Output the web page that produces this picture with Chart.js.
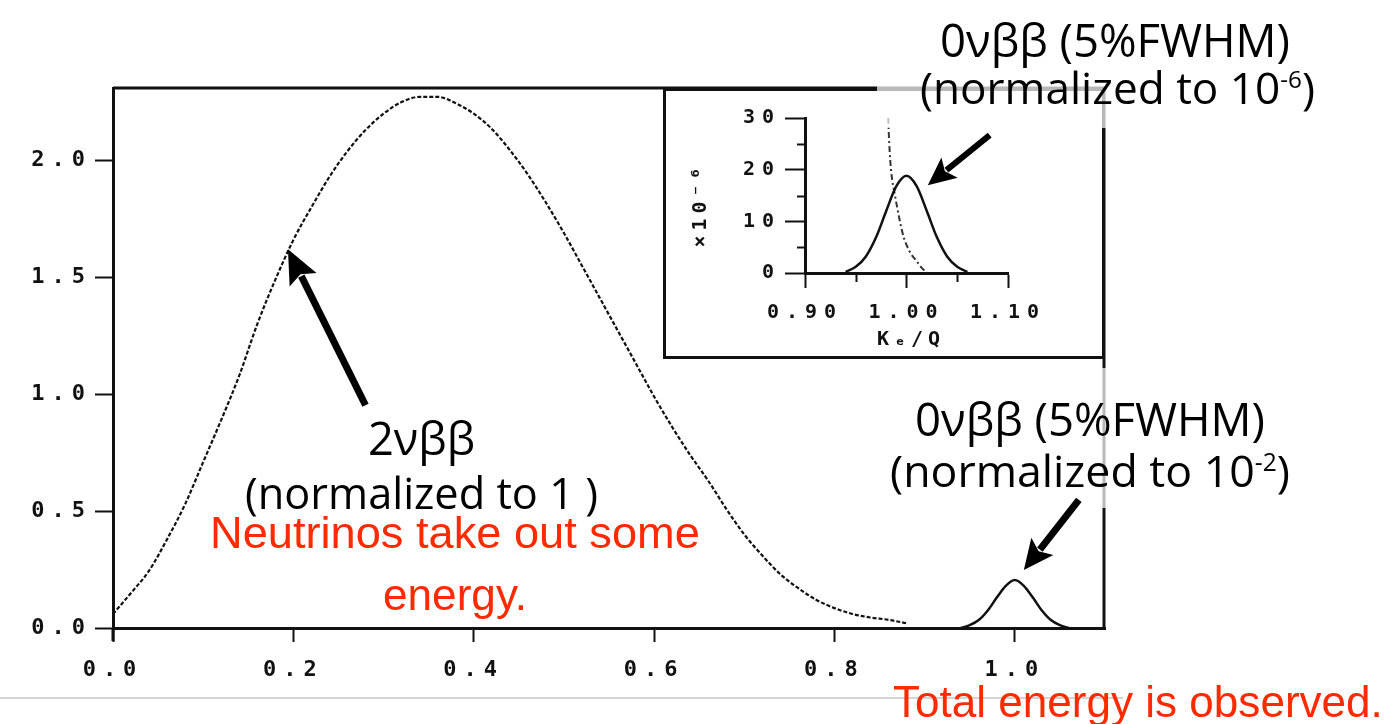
<!DOCTYPE html>
<html>
<head>
<meta charset="utf-8">
<script src="https://cdn.jsdelivr.net/npm/chart.js@4.4.1/dist/chart.umd.min.js"></script>
<style>
body { margin: 0; background: #fff; overflow: hidden; }
#wrap { position: relative; width: 1391px; height: 724px; }
#main { position: absolute; left: 0; top: 0; }
#inset-box { position: absolute; left: 663px; top: 88px; width: 442px; height: 271px; background: #fff; }
#overlay { position: absolute; left: 0; top: 0; pointer-events: none; }
</style>
</head>
<body>
<div id="wrap">
  <canvas id="main" width="1391" height="724"></canvas>
  <div id="inset-box"><canvas id="inset" width="442" height="271"></canvas></div>
  <canvas id="overlay" width="1391" height="724"></canvas>
</div>
<script>
// main spectrum: 2vbb (normalized to 1)
const energy2nu = [0, 0.02, 0.04, 0.06, 0.08, 0.10, 0.12, 0.14, 0.16, 0.18, 0.20, 0.22, 0.24, 0.26, 0.28,
    0.30, 0.32, 0.34, 0.36, 0.38, 0.40, 0.42, 0.44, 0.46, 0.48, 0.50, 0.52, 0.54, 0.56, 0.58, 0.60,
    0.62, 0.64, 0.66, 0.68, 0.70, 0.72, 0.74, 0.76, 0.78, 0.80, 0.82, 0.84, 0.86, 0.88];
const counts2nu = [0.06, 0.15, 0.245, 0.38, 0.53, 0.71, 0.89, 1.08, 1.30, 1.49, 1.66, 1.80, 1.93, 2.04, 2.13,
    2.20, 2.25, 2.272, 2.272, 2.245, 2.20, 2.135, 2.045, 1.94, 1.82, 1.69, 1.55, 1.41, 1.27, 1.13, 0.99,
    0.86, 0.74, 0.63, 0.51, 0.40, 0.31, 0.23, 0.17, 0.12, 0.085, 0.06, 0.045, 0.035, 0.02];

// main spectrum: 0vbb peak (normalized to 1e-2)
const energy0nu = [0.94, 0.95, 0.96, 0.97, 0.98, 0.99, 1.00, 1.01, 1.02, 1.03, 1.04, 1.05, 1.06];
const counts0nu = [0.0, 0.012, 0.034, 0.075, 0.13, 0.18, 0.205, 0.18, 0.13, 0.075, 0.034, 0.012, 0.0];

// inset: 0vbb peak (x1e-6) and 2vbb tail
const insetEnergy0nu = [0.94, 0.95, 0.96, 0.97, 0.98, 0.99, 1.00, 1.01, 1.02, 1.03, 1.04, 1.05, 1.06];
const insetCounts0nu = [0.2, 1.2, 3.2, 6.9, 12.0, 16.8, 18.8, 16.8, 12.0, 6.9, 3.2, 1.2, 0.2];
const insetEnergy2nu = [0.982, 0.983, 0.985, 0.9885, 0.993, 0.997, 1.003, 1.010, 1.015, 1.020];
const insetCounts2nu = [30, 25, 19.5, 15.2, 10.5, 7.1, 4.2, 2.3, 1.0, 0.1];

// ticks
const mainXTicks = [0, 0.2, 0.4, 0.6, 0.8, 1.0];
const mainYTicks = [0, 0.5, 1.0, 1.5, 2.0];
const insetXTicks = [0.90, 0.95, 1.00, 1.05, 1.10];
const insetXLabels = [0.90, 1.00, 1.10];
const insetYTicks = [0, 5, 10, 15, 20, 25, 30];
const insetYLabels = [0, 10, 20, 30];

const toPoints = (xs, ys) => xs.map((x, i) => ({ x: x, y: ys[i] }));
const tickFont = { family: 'DejaVu Sans Mono', weight: 'bold', size: 22 };
const insetFont = { family: 'DejaVu Sans Mono', weight: 'bold', size: 20 };
const ink = '#111';
const isLabel = (list, v) => list.some(l => Math.abs(l - v) < 1e-6);

// wide spacing for the old plotter-style tick labels
const spacing = {
    id: 'spacing',
    beforeDraw(chart) { chart.ctx.letterSpacing = '7px'; },
    afterDraw(chart) { chart.ctx.letterSpacing = '0px'; }
};

const frame = {
    id: 'frame',
    afterDraw(chart) {
        const { ctx, chartArea: a } = chart;
        ctx.save();
        ctx.strokeStyle = ink;
        ctx.lineWidth = 3;
        ctx.beginPath();
        ctx.moveTo(a.left, a.top);
        ctx.lineTo(a.right - 1, a.top);
        ctx.lineTo(a.right - 1, a.bottom);
        ctx.moveTo(a.left, a.bottom);
        ctx.lineTo(a.left, a.bottom + 13);
        ctx.stroke();
        ctx.restore();
    }
};

const mainChart = new Chart(document.getElementById('main'), {
    type: 'line',
    data: {
        datasets: [{
            data: toPoints(energy2nu, counts2nu),
            borderColor: '#111',
            borderWidth: 2.2,
            borderDash: [4, 2],
            pointRadius: 0,
            cubicInterpolationMode: 'monotone'
        }, {
            data: toPoints(energy0nu, counts0nu),
            borderColor: '#111',
            borderWidth: 2.5,
            pointRadius: 0,
            cubicInterpolationMode: 'monotone'
        }]
    },
    options: {
        responsive: false,
        animation: false,
        layout: { padding: { left: 0, top: 88, right: 286, bottom: 0 } },
        plugins: { legend: { display: false }, tooltip: { enabled: false } },
        scales: {
            x: {
                type: 'linear', min: 0, max: 1.1,
                afterBuildTicks: s => { s.ticks = mainXTicks.map(v => ({ value: v })); },
                afterFit: s => { s.height = 96; },
                grid: { drawOnChartArea: false, tickLength: 14, tickColor: ink, tickWidth: 2 },
                border: { display: true, color: ink, width: 3 },
                ticks: { color: ink, font: tickFont, padding: 15, maxRotation: 0, callback: v => v.toFixed(1) }
            },
            y: {
                type: 'linear', min: 0, max: 2.31,
                afterBuildTicks: s => { s.ticks = mainYTicks.map(v => ({ value: v })); },
                afterFit: s => { s.width = 113; },
                grid: { drawOnChartArea: false, tickLength: 18, tickColor: ink, tickWidth: 2 },
                border: { display: true, color: ink, width: 3 },
                ticks: { color: ink, font: tickFont, padding: 3, callback: v => v.toFixed(1) }
            }
        }
    },
    plugins: [spacing, frame]
});

function arrow(ctx, x1, y1, x2, y2, w, head, half) {
    const ang = Math.atan2(y2 - y1, x2 - x1);
    const c = Math.cos(ang), s = Math.sin(ang);
    const bx = x2 - head * c, by = y2 - head * s;
    ctx.strokeStyle = '#000';
    ctx.fillStyle = '#000';
    ctx.lineWidth = w;
    ctx.beginPath();
    ctx.moveTo(x1, y1);
    ctx.lineTo(bx + 4 * c, by + 4 * s);
    ctx.stroke();
    ctx.beginPath();
    ctx.moveTo(x2, y2);
    ctx.lineTo(bx + half * s, by - half * c);
    ctx.lineTo(bx + 6 * c, by + 6 * s);
    ctx.lineTo(bx - half * s, by + half * c);
    ctx.closePath();
    ctx.fill();
}

// draws a line of text so it spans left..right; parts may be superscripts
function fitLine(ctx, parts, left, right, base, family, color) {
    const widthAt = size => parts.reduce((w, p) => {
        ctx.font = (p.sup ? size * 0.55 : size) + 'px ' + family;
        return w + ctx.measureText(p.t).width;
    }, 0);
    const size = 100 * (right - left) / widthAt(100);
    let x = left;
    ctx.fillStyle = color;
    ctx.textAlign = 'left';
    ctx.textBaseline = 'alphabetic';
    parts.forEach(p => {
        ctx.font = (p.sup ? size * 0.55 : size) + 'px ' + family;
        ctx.fillText(p.t, x, p.sup ? base - size * 0.36 : base);
        x += ctx.measureText(p.t).width;
    });
}

function drawOverlay(inset) {
    const ctx = document.getElementById('overlay').getContext('2d');
    ctx.clearRect(0, 0, 1391, 724);
    const mx = mainChart.scales.x, my = mainChart.scales.y;
    const ix = inset.scales.x, iy = inset.scales.y;
    const ox = 663, oy = 88;

    // translucent text boxes laid over the figure
    ctx.fillStyle = 'rgba(255,255,255,0.7)';
    ctx.fillRect(877, 40, 240, 88);
    ctx.fillRect(885, 368, 232, 140);

    // slide rule line
    ctx.strokeStyle = '#c4c4c4';
    ctx.lineWidth = 1.5;
    ctx.beginPath();
    ctx.moveTo(0, 698);
    ctx.lineTo(1123, 698);
    ctx.stroke();

    const black = "'Open Sans'";
    const red = "'Liberation Sans'";
    fitLine(ctx, [{ t: '0νββ (5%FWHM)' }], 940, 1290, 57, black, '#000');
    fitLine(ctx, [{ t: '(normalized to 10' }, { t: '-6', sup: true }, { t: ')' }], 920, 1315, 104, black, '#000');
    fitLine(ctx, [{ t: '0νββ (5%FWHM)' }], 915, 1265, 436, black, '#000');
    fitLine(ctx, [{ t: '(normalized to 10' }, { t: '-2', sup: true }, { t: ')' }], 890, 1290, 487, black, '#000');
    fitLine(ctx, [{ t: '2νββ' }], 368, 475, 455, black, '#000');
    fitLine(ctx, [{ t: '(normalized to 1 )' }], 245, 598, 509, black, '#000');
    fitLine(ctx, [{ t: 'Neutrinos take out some' }], 210, 700, 548, red, '#ff2a00');
    fitLine(ctx, [{ t: 'energy.' }], 383, 527, 610, red, '#ff2a00');
    fitLine(ctx, [{ t: 'Total energy is observed.' }], 893, 1383, 717, red, '#ff2a00');

    arrow(ctx, mx.getPixelForValue(0.28), my.getPixelForValue(0.953),
        mx.getPixelForValue(0.194), my.getPixelForValue(1.62), 7, 34, 15);
    arrow(ctx, mx.getPixelForValue(1.071), my.getPixelForValue(0.548),
        mx.getPixelForValue(1.01), my.getPixelForValue(0.248), 7, 30, 14);
    arrow(ctx, ox + ix.getPixelForValue(1.082), oy + iy.getPixelForValue(26.7),
        ox + ix.getPixelForValue(1.021), oy + iy.getPixelForValue(17.0), 6, 28, 13);
}

const insetDecor = {
    id: 'insetDecor',
    afterDraw(chart) {
        const ctx = chart.ctx;
        const { x: sx, y: sy } = chart.scales;
        const a = chart.chartArea;
        ctx.save();
        ctx.letterSpacing = '0px';
        ctx.strokeStyle = ink;
        ctx.lineWidth = 3;
        ctx.strokeRect(1.5, 1.5, 439, 268);
        // short minor ticks
        ctx.lineWidth = 2;
        ctx.beginPath();
        insetYTicks.filter(v => !isLabel(insetYLabels, v)).forEach(v => {
            const py = Math.round(sy.getPixelForValue(v)) + 0.5;
            ctx.moveTo(a.left - 8, py);
            ctx.lineTo(a.left, py);
        });
        insetXTicks.filter(v => !isLabel(insetXLabels, v)).forEach(v => {
            const px = Math.round(sx.getPixelForValue(v)) + 0.5;
            ctx.moveTo(px, a.bottom);
            ctx.lineTo(px, a.bottom + 9);
        });
        ctx.stroke();
        ctx.fillStyle = ink;
        ctx.font = 'bold 20px "DejaVu Sans Mono"';
        ctx.textAlign = 'center';
        ctx.textBaseline = 'middle';
        ctx.letterSpacing = '5px';
        ctx.fillText('Kₑ/Q', 248, 252);
        ctx.translate(38, 117);
        ctx.rotate(-Math.PI / 2);
        ctx.fillText('×10⁻⁶', 0, 0);
        ctx.restore();
        drawOverlay(chart);
    }
};

const majorOnly = list => c => (c.tick && isLabel(list, c.tick.value)) ? ink : 'rgba(0,0,0,0)';

new Chart(document.getElementById('inset'), {
    type: 'line',
    data: {
        datasets: [{
            data: toPoints(insetEnergy0nu, insetCounts0nu),
            borderColor: '#111',
            borderWidth: 2.5,
            pointRadius: 0,
            cubicInterpolationMode: 'monotone'
        }, {
            data: toPoints(insetEnergy2nu, insetCounts2nu),
            borderColor: '#333',
            borderWidth: 2,
            borderDash: [6, 3, 2, 3],
            pointRadius: 0,
            cubicInterpolationMode: 'monotone'
        }]
    },
    options: {
        responsive: false,
        animation: false,
        layout: { padding: { left: 0, top: 30, right: 97, bottom: 0 } },
        plugins: { legend: { display: false }, tooltip: { enabled: false } },
        scales: {
            x: {
                type: 'linear', min: 0.9, max: 1.1,
                afterBuildTicks: s => { s.ticks = insetXTicks.map(v => ({ value: v })); },
                afterFit: s => { s.height = 86; },
                grid: { drawOnChartArea: false, tickLength: 15, tickColor: majorOnly(insetXLabels), tickWidth: 2 },
                border: { display: true, color: ink, width: 3 },
                ticks: {
                    color: ink, font: insetFont, padding: 13, maxRotation: 0,
                    callback: v => isLabel(insetXLabels, v) ? v.toFixed(2) : ''
                }
            },
            y: {
                type: 'linear', min: 0, max: 30,
                afterBuildTicks: s => { s.ticks = insetYTicks.map(v => ({ value: v })); },
                afterFit: s => { s.width = 142; },
                grid: { drawOnChartArea: false, tickLength: 20, tickColor: majorOnly(insetYLabels), tickWidth: 2 },
                border: { display: true, color: ink, width: 3 },
                ticks: {
                    color: ink, font: insetFont, padding: 4,
                    callback: v => isLabel(insetYLabels, v) ? String(v) : ''
                }
            }
        }
    },
    plugins: [spacing, insetDecor]
});
</script>
</body>
</html>
